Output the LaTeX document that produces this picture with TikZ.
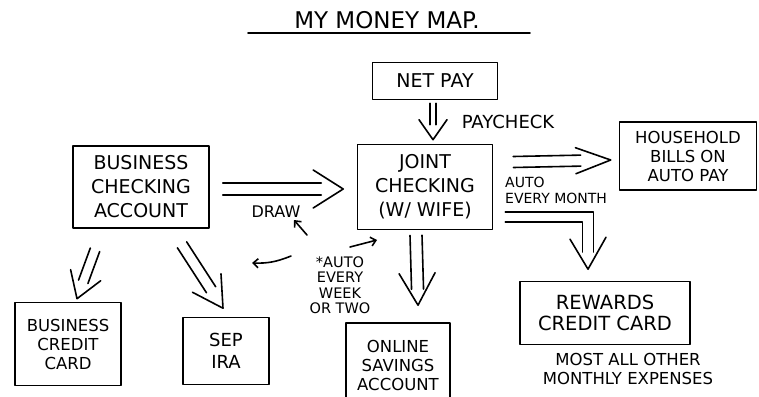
\documentclass[tikz,border=0pt]{standalone}
\usepackage{fontspec}
\setmainfont{DejaVu Sans}
\usetikzlibrary{calc,arrows.meta}
% #1 start, #2 tip, #3 half shaft gap, #4 head length, #5 head half width, #6 shaft end (back from tip)
\newcommand\hollowarrow[6]{%
  \path (#1) coordinate (ha) (#2) coordinate (hb);
  \path ($(hb)!#6!(ha)$) coordinate (hm) ($(hb)!#4!(ha)$) coordinate (hh);
  \draw[ink] ($(ha)!#3!90:(hb)$) -- ($(hm)!#3!90:(hb)$);
  \draw[ink] ($(ha)!#3!-90:(hb)$) -- ($(hm)!#3!-90:(hb)$);
  \draw[ink] ($(hh)!#5!90:(hb)$) -- (hb) -- ($(hh)!#5!-90:(hb)$);
}
\begin{document}
\begin{tikzpicture}[x=1pt,y=-1pt,
  ink/.style={line width=1.6pt, line cap=round, line join=round},
  box/.style={ink, draw, inner sep=0pt, align=center},
  lbl/.style={align=center, inner sep=0pt},
  small/.style={ink, -{Straight Barb[length=5pt,width=9pt]}}]
\useasboundingbox (0,0) rectangle (759,396);
\fill[white] (0,0) rectangle (759,396);

% title
\node[lbl, anchor=base, font=\fontsize{23}{26}\selectfont] (title) at (387,29) {MY MONEY MAP.};
\coordinate (ul1) at (248,33);
\coordinate (ul2) at (530,33);
\draw[ink] (ul1) -- (ul2);

% boxes
\node[box, minimum width=125, minimum height=37, font=\fontsize{19}{23}\selectfont] (net) at (435,81) {NET PAY};
\node[box, minimum width=135, minimum height=85, font=\fontsize{19}{24}\selectfont] (joint) at (425,187) {JOINT\\CHECKING\\(W/ WIFE)};
\node[box, minimum width=136, minimum height=82, font=\fontsize{19}{24}\selectfont] (bus) at (141,187) {BUSINESS\\CHECKING\\ACCOUNT};
\node[box, minimum width=137, minimum height=68, font=\fontsize{16.5}{19}\selectfont] (house) at (688,156) {HOUSEHOLD\\BILLS ON\\AUTO PAY};
\node[box, minimum width=106, minimum height=83, font=\fontsize{16.5}{19}\selectfont] (bcc) at (68,344) {BUSINESS\\CREDIT\\CARD};
\node[box, minimum width=86, minimum height=67, font=\fontsize{18}{22}\selectfont] (sep) at (226,351) {SEP\\IRA};
\node[box, minimum width=104, minimum height=84, font=\fontsize{16.5}{19}\selectfont] (online) at (398,365) {ONLINE\\SAVINGS\\ACCOUNT};
\node[box, minimum width=170, minimum height=63, font=\fontsize{19.5}{21}\selectfont] (rew) at (605,313) {REWARDS\\CREDIT CARD};

% labels
\node[lbl, font=\fontsize{18}{20}\selectfont] (paylbl) at (508,122) {PAYCHECK};
\node[lbl, font=\fontsize{16}{18}\selectfont] (drawlbl) at (276,212) {DRAW};
\node[lbl, anchor=west, align=left, font=\fontsize{14}{16}\selectfont] (monthlbl) at (505,190) {AUTO\\EVERY MONTH};
\node[lbl, font=\fontsize{14.5}{15.5}\selectfont] (weeklbl) at (340,285) {*AUTO\\EVERY\\WEEK\\OR TWO};
\node[lbl, font=\fontsize{16.5}{19}\selectfont] (expl) at (628,369) {MOST ALL OTHER\\MONTHLY EXPENSES};

% hollow arrows
\hollowarrow{$(net.south)+(-2,3)$}{$(joint.north)+(8,-4)$}{3pt}{20pt}{14pt}{15pt}
\hollowarrow{$(bus.east)+(13,2)$}{$(joint.west)+(-13.5,2)$}{6pt}{30pt}{19pt}{22pt}
\hollowarrow{$(joint.east)+(20,-25)$}{$(house.west)+(-8,4)$}{5.5pt}{35pt}{13pt}{30pt}
\hollowarrow{$(joint.south)+(-9,5)$}{$(online.north)+(20,-17)$}{6pt}{32pt}{18pt}{16pt}
\hollowarrow{$(bus.south)+(-46,21)$}{$(bcc.north)+(9,-3)$}{5pt}{25pt}{16pt}{18pt}
\hollowarrow{$(bus.south)+(41,16)$}{$(sep.north)+(-3,-8.5)$}{5.5pt}{30pt}{17pt}{22pt}

% bent hollow arrow joint -> rewards
\coordinate (jr1) at ($(joint.east)+(12,25)$);
\coordinate (jr2) at ($(joint.east)+(12,35)$);
\coordinate (rtip) at ($(rew.north)+(-17,-11.5)$);
\draw[ink] (jr1) -- ++(88,0) -- ++(0,40);
\draw[ink] (jr2) -- ++(77,0) -- ++(0,30);
\draw[ink] ($(rtip)+(-18,-30)$) -- (rtip) -- ($(rtip)+(18,-32)$);

% small arrows
\coordinate (dt1) at (307,235);
\coordinate (dt2) at (294,220);
\draw[small] (dt1) -- (dt2);
\coordinate (lt1) at (291,256);
\coordinate (lt2) at (252,263);
\draw[small] (lt1) to[bend left=12] (lt2);
\coordinate (rt1) at (350,247);
\coordinate (rt2) at (377,240);
\draw[small] (rt1) -- (rt2);
\end{tikzpicture}
\end{document}
